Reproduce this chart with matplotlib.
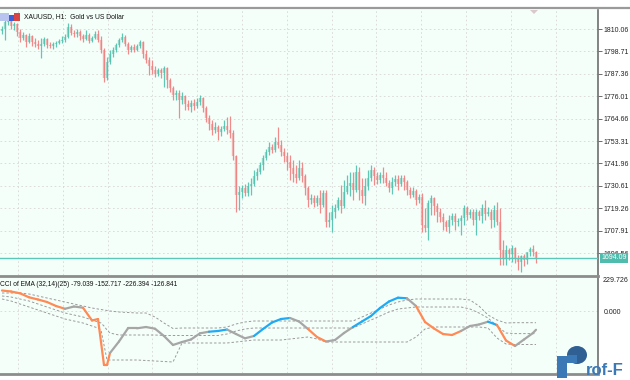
import matplotlib
matplotlib.use("Agg")
import matplotlib.pyplot as plt
import matplotlib.transforms as mtransforms
from matplotlib.collections import LineCollection
from matplotlib.lines import Line2D
from matplotlib.patches import Rectangle, Polygon, Ellipse
import numpy as np

plt.rcParams['font.family'] = ['Liberation Sans', 'DejaVu Sans']

# ---------------- data ----------------
symbol_title = "XAUUSD, H1:  Gold vs US Dollar"
ind_title = "CCI of EMA (32,14)(25) -79.039 -152.717 -226.394 -126.841"

opens = [
    1809.0, 1810.1, 1813.6, 1814.6, 1811.6, 1812.6, 1808.5, 1805.5, 1807.0, 1803.5,
    1806.5, 1803.5, 1802.5, 1801.4, 1802.5, 1805.0, 1801.9, 1801.4, 1802.5, 1803.0,
    1804.0, 1804.5, 1806.0, 1811.1, 1808.0, 1807.5, 1808.5, 1806.5, 1805.0, 1807.0,
    1804.0, 1805.5, 1807.5, 1804.5, 1799.4, 1785.2, 1793.3, 1797.4, 1799.4, 1801.9,
    1804.5, 1806.0, 1802.5, 1799.4, 1800.9, 1799.4, 1801.4, 1803.5, 1797.4, 1794.4,
    1791.3, 1789.3, 1787.3, 1789.3, 1787.8, 1790.3, 1784.2, 1780.2, 1776.6, 1777.6,
    1774.1, 1776.1, 1772.1, 1770.5, 1772.6, 1771.0, 1773.1, 1775.1, 1770.0, 1765.0,
    1761.9, 1758.9, 1760.4, 1757.9, 1759.4, 1760.9, 1758.9, 1757.4, 1745.7, 1725.9,
    1727.5, 1729.5, 1727.0, 1730.5, 1731.5, 1735.6, 1737.6, 1741.1, 1744.7, 1747.7,
    1750.3, 1748.7, 1752.8, 1751.3, 1747.7, 1745.7, 1742.7, 1739.6, 1736.6, 1734.6,
    1739.6, 1735.6, 1729.5, 1723.4, 1724.4, 1721.9, 1724.4, 1720.9, 1727.0, 1712.3,
    1713.3, 1717.3, 1719.4, 1723.4, 1720.4, 1727.5, 1730.5, 1732.0, 1728.5, 1737.6,
    1728.5, 1725.4, 1730.5, 1734.6, 1738.6, 1735.6, 1733.5, 1736.1, 1734.6, 1732.0,
    1729.5, 1732.5, 1734.1, 1731.5, 1734.6, 1732.5, 1728.5, 1725.9, 1728.0, 1723.4,
    1724.9, 1710.7, 1709.2, 1721.9, 1724.4, 1720.4, 1717.3, 1714.8, 1712.3, 1709.7,
    1713.3, 1715.3, 1712.3, 1712.8, 1714.3, 1719.4, 1715.8, 1717.3, 1713.3, 1717.3,
    1715.3, 1719.4, 1716.3, 1717.3, 1713.3, 1718.3, 1712.3, 1698.1, 1694.0, 1698.1,
    1696.0, 1699.1, 1694.0, 1692.0, 1695.0, 1693.0, 1697.1, 1698.6, 1697.1]
highs = [
    1811.6, 1815.1, 1816.1, 1815.6, 1813.6, 1813.1, 1810.1, 1808.5, 1807.5, 1808.0,
    1807.0, 1805.5, 1804.5, 1805.5, 1806.0, 1805.5, 1803.5, 1803.5, 1804.0, 1805.0,
    1806.5, 1807.5, 1813.1, 1812.6, 1809.6, 1810.1, 1809.6, 1807.5, 1809.6, 1808.0,
    1806.5, 1809.0, 1809.6, 1806.5, 1800.4, 1795.9, 1799.4, 1800.9, 1803.0, 1805.5,
    1808.0, 1807.0, 1803.5, 1801.9, 1802.5, 1802.5, 1804.5, 1804.0, 1799.4, 1795.9,
    1794.4, 1791.3, 1790.3, 1790.3, 1791.3, 1790.8, 1785.2, 1781.2, 1779.2, 1779.2,
    1778.1, 1776.6, 1774.1, 1774.1, 1774.6, 1775.1, 1776.6, 1775.6, 1771.0, 1766.5,
    1763.9, 1762.9, 1761.4, 1760.9, 1763.9, 1765.5, 1766.0, 1758.9, 1746.2, 1730.5,
    1731.0, 1731.5, 1732.5, 1734.6, 1738.6, 1739.6, 1742.7, 1746.2, 1749.3, 1752.8,
    1751.8, 1755.3, 1760.4, 1753.8, 1749.8, 1747.7, 1746.2, 1743.7, 1741.1, 1743.7,
    1742.7, 1736.6, 1730.5, 1726.5, 1725.9, 1725.9, 1728.5, 1728.5, 1728.5, 1717.3,
    1720.9, 1721.4, 1724.9, 1731.0, 1733.5, 1736.1, 1737.6, 1737.6, 1741.1, 1740.1,
    1734.6, 1734.6, 1738.6, 1741.1, 1740.1, 1737.6, 1737.6, 1740.1, 1737.6, 1733.5,
    1735.1, 1736.1, 1736.1, 1736.1, 1736.1, 1733.5, 1730.0, 1730.0, 1729.0, 1726.5,
    1727.0, 1719.4, 1723.4, 1725.9, 1724.9, 1721.9, 1719.4, 1716.8, 1713.3, 1715.8,
    1716.8, 1716.8, 1714.3, 1715.8, 1720.9, 1720.4, 1718.9, 1718.9, 1718.9, 1718.3,
    1721.4, 1723.4, 1719.9, 1718.9, 1720.9, 1722.4, 1719.4, 1703.1, 1700.6, 1699.1,
    1700.6, 1699.6, 1695.5, 1695.5, 1696.0, 1697.1, 1699.6, 1700.6, 1697.6]
lows = [
    1807.5, 1804.5, 1812.1, 1810.1, 1809.6, 1806.5, 1803.5, 1804.5, 1800.9, 1803.0,
    1801.4, 1800.9, 1799.9, 1795.4, 1801.4, 1800.4, 1800.4, 1799.9, 1800.9, 1802.5,
    1803.0, 1803.5, 1805.5, 1807.0, 1806.0, 1806.0, 1804.5, 1803.5, 1804.5, 1803.0,
    1803.5, 1805.0, 1803.5, 1797.9, 1783.2, 1784.2, 1792.3, 1795.9, 1798.4, 1800.9,
    1803.5, 1801.4, 1797.4, 1798.4, 1798.4, 1798.9, 1800.4, 1795.4, 1792.8, 1786.8,
    1787.3, 1785.7, 1786.2, 1785.2, 1780.7, 1780.2, 1778.1, 1774.1, 1774.1, 1765.0,
    1772.1, 1769.0, 1769.0, 1768.0, 1769.0, 1770.0, 1771.5, 1768.0, 1762.9, 1758.9,
    1756.3, 1757.4, 1753.8, 1755.8, 1758.4, 1756.9, 1754.8, 1743.7, 1717.3, 1718.3,
    1724.4, 1725.4, 1725.4, 1725.9, 1730.5, 1733.5, 1736.6, 1738.6, 1743.7, 1746.2,
    1747.2, 1747.7, 1749.8, 1745.7, 1742.7, 1738.6, 1733.5, 1732.5, 1732.0, 1733.5,
    1732.5, 1725.9, 1719.9, 1721.4, 1719.9, 1720.4, 1716.8, 1719.9, 1709.7, 1709.7,
    1707.2, 1714.3, 1718.3, 1716.8, 1719.4, 1726.5, 1725.4, 1723.4, 1727.5, 1723.4,
    1721.9, 1720.9, 1728.5, 1733.0, 1731.0, 1731.5, 1732.0, 1732.0, 1730.5, 1727.5,
    1726.5, 1730.5, 1728.5, 1730.5, 1728.5, 1725.9, 1724.4, 1724.9, 1720.9, 1721.9,
    1707.2, 1707.2, 1703.1, 1715.8, 1715.8, 1712.3, 1712.3, 1708.2, 1707.7, 1706.7,
    1710.7, 1708.2, 1710.2, 1705.7, 1710.7, 1713.3, 1714.3, 1710.7, 1705.7, 1713.3,
    1711.8, 1713.3, 1715.3, 1709.2, 1709.7, 1710.7, 1690.5, 1690.5, 1690.5, 1693.0,
    1692.0, 1691.5, 1687.9, 1686.9, 1690.0, 1691.0, 1695.0, 1695.0, 1691.5]
closes = [
    1810.1, 1813.6, 1814.6, 1811.6, 1812.6, 1808.5, 1805.5, 1807.0, 1803.5, 1806.5,
    1803.5, 1802.5, 1801.4, 1802.5, 1805.0, 1801.9, 1801.4, 1802.5, 1803.0, 1804.0,
    1804.5, 1806.0, 1811.1, 1808.0, 1807.5, 1808.5, 1806.5, 1805.0, 1807.0, 1804.0,
    1805.5, 1807.5, 1804.5, 1799.4, 1785.2, 1793.3, 1797.4, 1799.4, 1801.9, 1804.5,
    1806.0, 1802.5, 1799.4, 1800.9, 1799.4, 1801.4, 1803.5, 1797.4, 1794.4, 1791.3,
    1789.3, 1787.3, 1789.3, 1787.8, 1790.3, 1784.2, 1780.2, 1776.6, 1777.6, 1774.1,
    1776.1, 1772.1, 1770.5, 1772.6, 1771.0, 1773.1, 1775.1, 1770.0, 1765.0, 1761.9,
    1758.9, 1760.4, 1757.9, 1759.4, 1760.9, 1758.9, 1757.4, 1745.7, 1725.9, 1727.5,
    1729.5, 1727.0, 1730.5, 1731.5, 1735.6, 1737.6, 1741.1, 1744.7, 1747.7, 1750.3,
    1748.7, 1752.8, 1751.3, 1747.7, 1745.7, 1742.7, 1739.6, 1736.6, 1734.6, 1739.6,
    1735.6, 1729.5, 1723.4, 1724.4, 1721.9, 1724.4, 1720.9, 1727.0, 1712.3, 1713.3,
    1717.3, 1719.4, 1723.4, 1720.4, 1727.5, 1730.5, 1732.0, 1728.5, 1737.6, 1728.5,
    1725.4, 1730.5, 1734.6, 1738.6, 1735.6, 1733.5, 1736.1, 1734.6, 1732.0, 1729.5,
    1732.5, 1734.1, 1731.5, 1734.6, 1732.5, 1728.5, 1725.9, 1728.0, 1723.4, 1724.9,
    1710.7, 1709.2, 1721.9, 1724.4, 1720.4, 1717.3, 1714.8, 1712.3, 1709.7, 1713.3,
    1715.3, 1712.3, 1712.8, 1714.3, 1719.4, 1715.8, 1717.3, 1713.3, 1717.3, 1715.3,
    1719.4, 1716.3, 1717.3, 1713.3, 1718.3, 1712.3, 1698.1, 1694.0, 1698.1, 1696.0,
    1699.1, 1694.0, 1692.0, 1695.0, 1693.0, 1697.1, 1698.6, 1697.1, 1694.09]

price_ticks = [1810.06, 1798.71, 1787.36, 1776.01, 1764.66, 1753.31,
               1741.96, 1730.61, 1719.26, 1707.91, 1696.56]
last_price = 1694.09

ind_max_label = 229.726
ind_zero_label = 0.0

cci_bars = [0, 3, 6, 9, 12, 15, 18, 21, 24, 27, 30, 32, 33, 34, 35, 36, 39, 42, 45, 48,
            51, 54, 57, 60, 63, 66, 69, 72, 75, 78, 81, 84, 87, 90, 93, 96, 99, 102, 105, 108,
            111, 114, 117, 120, 123, 126, 129, 132, 135, 138, 141, 144, 147, 150, 153, 156,
            159, 162, 165, 168, 171, 174, 177, 178]
cci = [138.5, 131.8, 119.6, 92.6, 77.7, 60.8, 33.8, 14.9, 30.4, 22.3,
       -64.2, -54.1, -209.5, -364.9, -364.9, -283.8, -206.1, -116.9, -116.9, -108.1,
       -119.6, -168.9, -229.7, -209.5, -192.6, -150.7, -139.9, -135.1, -125.0, -155.4,
       -184.5, -168.9, -121.6, -77.7, -54.1, -47.3, -70.9, -121.6, -175.7, -206.1,
       -196.0, -148.7, -108.1, -70.9, -33.8, 20.3, 64.2, 89.9, 85.8, 33.8,
       -74.3, -118.2, -155.4, -162.2, -135.1, -101.4, -91.2, -72.3, -94.6, -199.3,
       -236.5, -192.6, -148.7, -126.841]
# state of each segment: o = falling (orange), g = neutral (gray), b = rising (blue)
cci_state = list("ooooooo" "gg" "oooooo" "ggggggggggg" "bb" "ggg" "bbbb" "gg" "oo"
                 "ggg" "bbbbbb" "g" "ooooo" "ggg" "b" "oo" "gggg")
band_up = [121.6, 121.6, 121.6, 114.9, 101.4, 87.8, 74.3, 60.8, 47.3, 33.8,
           20.3, 13.5, 10.1, 6.8, 3.4, 0.0, -6.8, -10.1, -13.5, -13.5,
           -40.5, -81.1, -118.2, -114.9, -114.9, -114.9, -114.9, -114.9, -108.1, -87.8,
           -74.3, -67.6, -67.6, -67.6, -67.6, -67.6, -67.6, -67.6, -67.6, -67.6,
           -67.6, -67.6, -67.6, -40.5, -13.5, 13.5, 40.5, 60.8, 74.3, 81.1,
           81.1, 81.1, 81.1, 81.1, 81.1, 74.3, 33.8, -27.0, -60.8, -81.1,
           -79.0, -79.0, -79.0, -79.039]
band_mid = [101.4, 94.6, 81.1, 67.6, 47.3, 27.0, 6.8, -13.5, -27.0, -40.5,
            -60.8, -74.3, -81.1, -101.4, -128.4, -148.7, -162.2, -162.2, -162.2, -162.2,
            -162.2, -165.5, -165.5, -165.5, -165.5, -165.5, -165.5, -165.5, -155.4, -135.1,
            -121.6, -114.9, -114.9, -114.9, -114.9, -114.9, -114.9, -114.9, -114.9, -114.9,
            -114.9, -114.9, -114.9, -87.8, -60.8, -33.8, -6.8, 13.5, 20.3, 27.0,
            27.0, 27.0, 27.0, 27.0, 27.0, 13.5, -13.5, -47.3, -101.4, -148.7,
            -152.7, -152.7, -152.7, -152.717]
band_low = [81.1, 67.6, 47.3, 27.0, 6.8, -13.5, -33.8, -54.1, -67.6, -81.1,
            -101.4, -114.9, -128.4, -229.7, -331.1, -331.1, -331.1, -331.1, -331.1, -334.5,
            -337.9, -341.2, -344.6, -216.2, -216.2, -216.2, -216.2, -216.2, -216.2, -209.5,
            -202.7, -196.0, -196.0, -196.0, -196.0, -189.2, -182.4, -175.7, -189.2, -209.5,
            -209.5, -209.5, -209.5, -209.5, -209.5, -209.5, -209.5, -209.5, -209.5, -175.7,
            -121.6, -108.1, -108.1, -108.1, -108.1, -108.1, -108.1, -114.9, -182.4, -223.0,
            -226.4, -226.4, -226.4, -226.394]

# ---------------- style / layout ----------------
W, H = 630, 380
BG = '#f5fffa'
BULL = '#4fc1ad'
BEAR = '#f07f7f'
GRID = '#d6d6d6'
BORDER = '#8c8c8c'
STATE_COL = {'o': '#ff8a55', 'g': '#a6a6a6', 'b': '#1eaaf5'}

fig = plt.figure(figsize=(W / 100, H / 100), dpi=100)
fig.patch.set_facecolor('white')

def fy(py):
    return 1 - py / H

# pixel anchors of the price scale
PX_TOP, PX_BOT = 9.5, 275.0
px_a, px_b = 29.0, 253.0           # pixel rows of first and last price ticks
ppp = (price_ticks[0] - price_ticks[-1]) / (px_b - px_a)
y_top = price_ticks[0] + (px_a - PX_TOP) * ppp
y_bot = price_ticks[0] - (PX_BOT - px_a) * ppp

RIGHT = 598
ax = fig.add_axes([0, fy(PX_BOT), RIGHT / W, (PX_BOT - PX_TOP) / H])
IND_TOP, IND_BOT = 277.0, 372.5
axi = fig.add_axes([0, fy(IND_BOT), RIGHT / W, (IND_BOT - IND_TOP) / H])

# x: bar i at pixel 2 + 3 i
x_left = -2 / 3
x_right = (RIGHT - 2) / 3
grid_x = [(18 + 44.8 * k - 2) / 3 for k in range(13)]

for a in (ax, axi):
    a.set_facecolor(BG)
    a.set_xlim(x_left, x_right)
    a.set_xticks(grid_x)
    a.tick_params(axis='x', length=0, labelbottom=False)
    a.grid(True, axis='x', color=GRID, lw=0.6, linestyle=(0, (2, 3)))
    for s in ('left', 'top', 'bottom'):
        a.spines[s].set_visible(False)
    a.spines['right'].set_color('#6e6e6e')
    a.spines['right'].set_linewidth(1.2)
    a.set_axisbelow(True)

# ---------------- main chart ----------------
o = np.array(opens); h = np.array(highs); l = np.array(lows); c = np.array(closes)
idx = np.arange(len(c))
cols = np.where(c >= o, BULL, BEAR)
ax.vlines(idx, l, h, colors=cols, lw=0.9, alpha=0.9, zorder=3)
ax.vlines(idx, np.minimum(o, c), np.maximum(o, c), colors=cols, lw=1.7, alpha=0.55, zorder=3)

ax.set_ylim(y_bot, y_top)
ax.yaxis.tick_right()
ax.set_yticks(price_ticks)
ax.set_yticklabels(['%.2f' % v for v in price_ticks])
ax.tick_params(axis='y', length=3, width=0.6, color='#555555', pad=1.2,
               labelsize=5, labelcolor='#222222')
ax.grid(True, axis='y', color=GRID, lw=0.6, linestyle=(0, (2, 3)))

ax.axhline(last_price, color='#5cc6b8', lw=1.0, zorder=4)
bt = mtransforms.blended_transform_factory(ax.transAxes, ax.transData)
ax.text(1.006, last_price, '%.2f' % last_price, transform=bt, ha='left', va='center',
        fontsize=5, color='white', clip_on=False, zorder=6,
        bbox=dict(boxstyle='square,pad=0.18', fc='#4fbcad', ec='none'))

# ---------------- indicator ----------------
ind_bot_val = -(IND_BOT - 311.0) * (ind_max_label / (311.0 - IND_TOP))
axi.set_ylim(ind_bot_val, ind_max_label)
axi.yaxis.tick_right()
axi.set_yticks([ind_zero_label])
axi.set_yticklabels(['%.3f' % ind_zero_label])
axi.tick_params(axis='y', length=0, pad=4, labelsize=5, labelcolor='#222222')
axi.grid(True, axis='y', color=GRID, lw=0.6, linestyle=(0, (2, 3)))
bti = mtransforms.blended_transform_factory(axi.transAxes, axi.transData)
axi.text(1.008, ind_max_label, '%.3f' % ind_max_label, transform=bti, ha='left',
         va='top', fontsize=5, color='#222222', clip_on=False)

cb = np.array(cci_bars, dtype=float)
for band in (band_up, band_mid, band_low):
    axi.plot(cb, band, color='#9a9a9a', lw=0.7, linestyle=(0, (2.5, 2)), zorder=3)

pts = np.column_stack([cb, cci])
segs = [pts[k:k + 2] for k in range(len(pts) - 1)]
seg_cols = [STATE_COL[s] for s in cci_state[:len(segs)]]
axi.add_collection(LineCollection(segs, colors=seg_cols, linewidths=1.6,
                                  capstyle='round', joinstyle='round', zorder=4))

# ---------------- frame / decorations ----------------
fig.add_artist(Line2D([0, 1], [fy(8.2), fy(8.2)], color='#9a9a9a', lw=1.6))
fig.add_artist(Line2D([0, RIGHT / W], [fy(276), fy(276)], color=BORDER, lw=2.0))
fig.add_artist(Line2D([0, RIGHT / W], [fy(373.5), fy(373.5)], color=BORDER, lw=2.0))

# chart window icon
fig.add_artist(Rectangle((0 / W, fy(21)), 9 / W, 8 / H, fc='#b9c3f0', ec='none'))
fig.add_artist(Rectangle((9 / W, fy(21)), 5 / W, 6 / H, fc='#3d5fd8', ec='none'))
fig.add_artist(Rectangle((14 / W, fy(21)), 6 / W, 8 / H, fc='#d84545', ec='none'))
fig.text(24 / W, fy(16.5), symbol_title, fontsize=4.9, color='#111111', va='center', ha='left')

# chart shift marker
fig.add_artist(Polygon([[530 / W, fy(10)], [538 / W, fy(10)], [534 / W, fy(14)]],
                       closed=True, fc='#d9c8cc', ec='none'))

fig.text(0.5 / W, fy(284), ind_title, fontsize=4.8, color='#111111', va='center', ha='left')

# watermark logo
fig.add_artist(Rectangle((557 / W, fy(378)), 10 / W, 22 / H, fc='#3b79b6', ec='none', zorder=10))
fig.add_artist(Ellipse((577 / W, fy(355)), 20 / W, 18 / H, fc='#2f5f93', ec='none', zorder=10))
fig.add_artist(Rectangle((567 / W, fy(363)), 10 / W, 8 / H, fc='#3b79b6', ec='none', zorder=11))
fig.text(586 / W, fy(375), 'rof-F', fontsize=12, fontweight='bold', color='#3b79b6',
         va='baseline', ha='left', zorder=11)

fig.savefig('out.png', dpi=100, facecolor=fig.get_facecolor())
